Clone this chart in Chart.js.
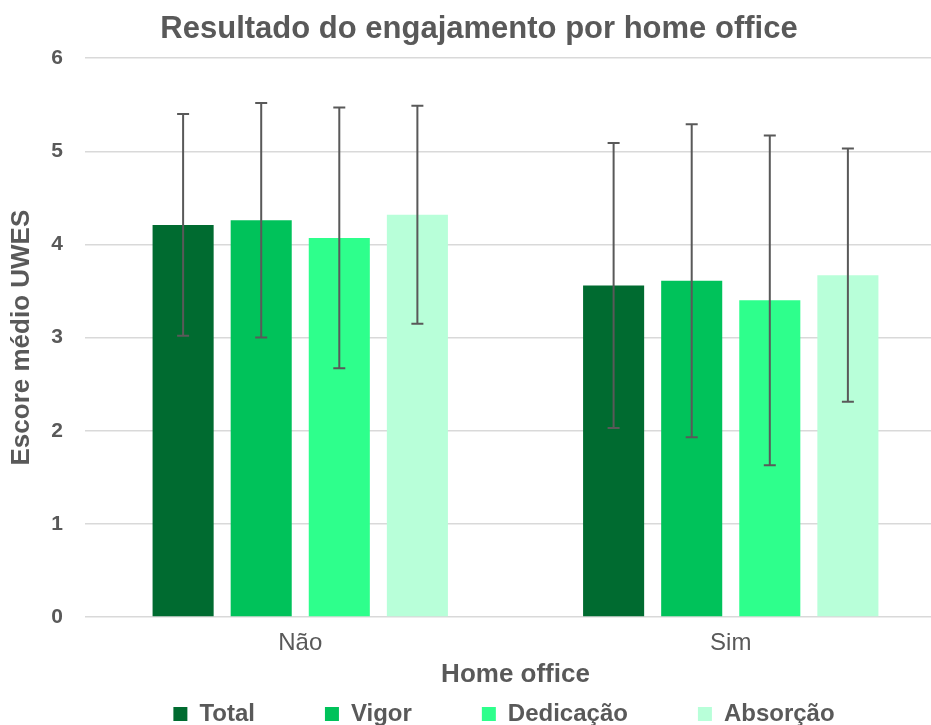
<!DOCTYPE html>
<html>
<head>
<meta charset="utf-8">
<script src="https://cdn.jsdelivr.net/npm/chart.js@4.4.0/dist/chart.umd.min.js"></script>
<style>
  html, body { margin: 0; padding: 0; background: #fff; overflow: hidden; }
  #wrap { width: 946px; height: 725px; }
</style>
</head>
<body>
<div id="wrap"><canvas id="chart" width="946" height="725"></canvas></div>
<script>
const categories = ['Não', 'Sim'];
const seriesNames = ['Total', 'Vigor', 'Dedicação', 'Absorção'];
const colors = ['#006b30', '#00c25a', '#2eff8c', '#b8ffd9'];

// mean scores per series (Não, Sim)
const total = [4.21, 3.56];
const vigor = [4.26, 3.61];
const dedicacao = [4.07, 3.40];
const absorcao = [4.32, 3.67];

// standard deviations
const totalSd = [1.19, 1.53];
const vigorSd = [1.26, 1.68];
const dedicacaoSd = [1.40, 1.77];
const absorcaoSd = [1.17, 1.36];

const yTicks = [0, 1, 2, 3, 4, 5, 6];

const means = [total, vigor, dedicacao, absorcao];
const sds = [totalSd, vigorSd, dedicacaoSd, absorcaoSd];

const grey = '#595959';
const font = 'Liberation Sans, Arial, sans-serif';
const legendGap = '         '; // spacing after each legend entry

const errorBars = {
  id: 'errorBars',
  afterDatasetsDraw(chart) {
    const ctx = chart.ctx;
    const y = chart.scales.y;
    ctx.save();
    ctx.strokeStyle = grey;
    ctx.lineWidth = 2;
    chart.data.datasets.forEach((ds, i) => {
      const meta = chart.getDatasetMeta(i);
      meta.data.forEach((bar, j) => {
        const m = means[i][j], s = sds[i][j];
        const top = y.getPixelForValue(m + s);
        const bot = y.getPixelForValue(m - s);
        ctx.beginPath();
        ctx.moveTo(bar.x, top); ctx.lineTo(bar.x, bot);
        ctx.moveTo(bar.x - 6, top); ctx.lineTo(bar.x + 6, top);
        ctx.moveTo(bar.x - 6, bot); ctx.lineTo(bar.x + 6, bot);
        ctx.stroke();
      });
    });
    ctx.restore();
  }
};

// nudge legend and title a bit to the right, like the original
const boxShift = {
  id: 'boxShift',
  afterLayout(chart) {
    chart.legend.left += 31;
    chart.legend.right += 31;
    chart.titleBlock.left += 6;
    chart.titleBlock.right += 6;
  }
};

new Chart(document.getElementById('chart'), {
  type: 'bar',
  data: {
    labels: categories,
    datasets: seriesNames.map((name, i) => ({
      label: name,
      data: means[i],
      backgroundColor: colors[i],
      borderWidth: 0,
      categoryPercentage: 0.7256,
      barPercentage: 0.782
    }))
  },
  options: {
    responsive: false,
    animation: false,
    layout: { padding: { top: 0, bottom: -11, left: 0, right: 0 } },
    scales: {
      x: {
        grid: { display: false, drawTicks: false },
        border: { display: false },
        ticks: { color: grey, font: { family: font, size: 24 }, padding: 12 },
        title: {
          display: true, text: 'Home office', color: grey,
          font: { family: font, size: 26, weight: 'bold' }, padding: { top: -11, bottom: 2 }
        }
      },
      y: {
        min: 0, max: 6,
        afterBuildTicks(scale) { scale.ticks = yTicks.map(v => ({ value: v })); },
        afterFit(scale) { scale.width = 85; },
        grid: { color: '#d9d9d9', lineWidth: 1.5, drawTicks: false },
        border: { display: false },
        ticks: { color: grey, font: { family: font, size: 21, weight: 'bold' }, padding: 22 },
        title: {
          display: true, text: 'Escore médio UWES', color: grey,
          font: { family: font, size: 26, weight: 'bold' }, padding: { top: 6, bottom: 0 }
        }
      }
    },
    plugins: {
      title: {
        display: true, text: 'Resultado do engajamento por home office', color: grey,
        font: { family: font, size: 31, weight: 'bold' }, padding: { top: 11, bottom: 10 }
      },
      legend: {
        position: 'bottom',
        labels: {
          color: grey, boxWidth: 14, boxHeight: 14, padding: 10,
          font: { family: font, size: 24, weight: 'bold' },
          generateLabels(chart) {
            const items = Chart.defaults.plugins.legend.labels.generateLabels(chart);
            items.forEach((it, i) => {
              it.lineWidth = 0;
              if (i < items.length - 1) it.text = it.text + legendGap;
            });
            return items;
          }
        }
      },
      tooltip: { enabled: false }
    }
  },
  plugins: [errorBars, boxShift]
});
</script>
</body>
</html>
